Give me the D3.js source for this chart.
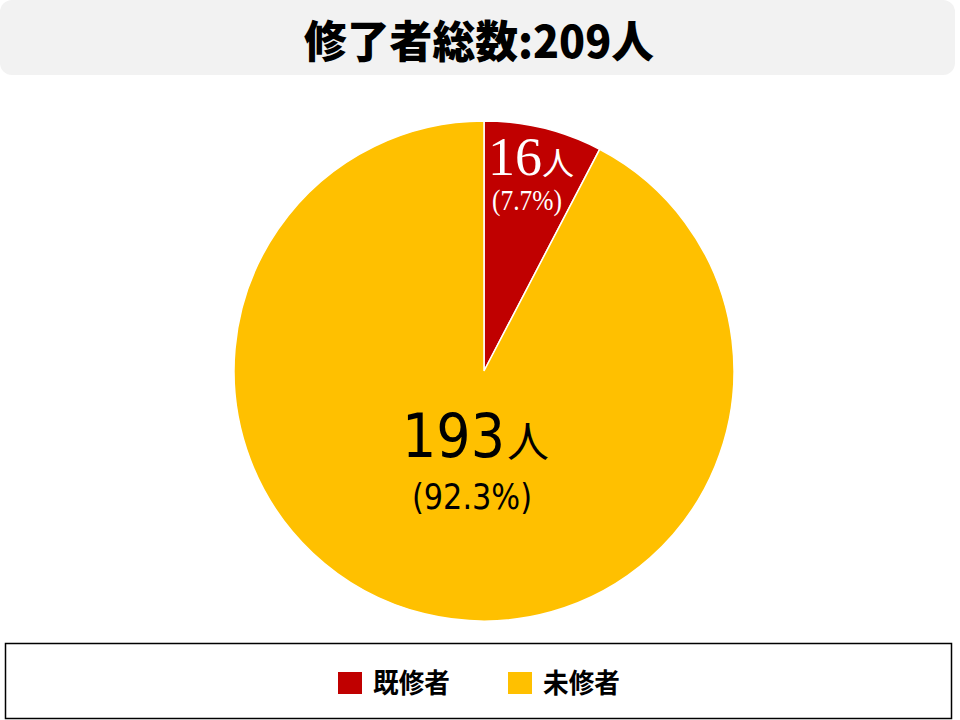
<!DOCTYPE html>
<html>
<head>
<meta charset="utf-8">
<script src="https://cdn.jsdelivr.net/npm/d3@7"></script>
<style>
  body { margin: 0; background: #fff; }
  svg { display: block; }
</style>
</head>
<body>
<div id="chart"></div>
<script>
// data
const categories = ["既修者", "未修者"];
const counts = [16, 193];
const percents = ["7.7%", "92.3%"];
const colors = ["#c00000", "#ffc000"];
const titleText = "修了者総数:209人";

const width = 960, height = 720;
const cx = 484, cy = 371, radius = 250;

const svg = d3.select("#chart")
  .append("svg")
  .attr("width", width)
  .attr("height", height);

// title box
svg.append("rect")
  .attr("x", 0).attr("y", 0)
  .attr("width", 955).attr("height", 75)
  .attr("rx", 12)
  .attr("fill", "#f2f2f2");

svg.append("text")
  .attr("x", 479).attr("y", 58)
  .attr("text-anchor", "middle")
  .attr("font-family", "'Noto Sans CJK JP', sans-serif")
  .attr("font-weight", 900)
  .attr("font-size", 44)
  .attr("textLength", 350)
  .attr("lengthAdjust", "spacingAndGlyphs")
  .attr("fill", "#000")
  .text(titleText);

// pie
const pie = d3.pie().sort(null).value(d => d);
const arcs = pie(counts);
const arc = d3.arc().innerRadius(0).outerRadius(radius);

const g = svg.append("g")
  .attr("transform", "translate(" + cx + "," + cy + ")");

g.selectAll("path")
  .data(arcs)
  .enter()
  .append("path")
  .attr("d", arc)
  .attr("fill", (d, i) => colors[i])
  .attr("stroke", "#fff")
  .attr("stroke-width", 1.5);

// label for the small slice (white, serif digits)
const small = g.append("text")
  .attr("fill", "#fff")
  .attr("font-family", "'Liberation Serif', serif");
small.append("tspan")
  .attr("x", 4).attr("y", -196)
  .attr("font-size", 54)
  .text(counts[0]);
small.append("tspan")
  .attr("font-size", 32)
  .attr("font-family", "'Noto Sans CJK JP', sans-serif")
  .text("人");
g.append("text")
  .attr("x", 43).attr("y", -161)
  .attr("text-anchor", "middle")
  .attr("fill", "#fff")
  .attr("font-family", "'Liberation Serif', serif")
  .attr("font-size", 29)
  .attr("textLength", 70)
  .attr("lengthAdjust", "spacingAndGlyphs")
  .text("(" + percents[0] + ")");

// label for the large slice
const big = g.append("text")
  .attr("fill", "#000")
  .attr("font-family", "'Liberation Sans Narrow', 'DejaVu Sans Condensed', sans-serif");
big.append("tspan")
  .attr("x", -82).attr("y", 86)
  .attr("font-size", 60)
  .text(counts[1]);
big.append("tspan")
  .attr("dx", 2)
  .attr("font-size", 42)
  .attr("font-family", "'Noto Sans CJK JP', sans-serif")
  .text("人");
g.append("text")
  .attr("x", -12).attr("y", 138)
  .attr("text-anchor", "middle")
  .attr("fill", "#000")
  .attr("font-family", "'Liberation Sans Narrow', 'DejaVu Sans Condensed', sans-serif")
  .attr("font-size", 36)
  .attr("textLength", 120)
  .attr("lengthAdjust", "spacingAndGlyphs")
  .text("(" + percents[1] + ")");

// legend
svg.append("rect")
  .attr("x", 5.5).attr("y", 643.5)
  .attr("width", 946).attr("height", 75)
  .attr("fill", "#fff")
  .attr("stroke", "#000")
  .attr("stroke-width", 1.5);

const legendX = d3.scalePoint()
  .domain(categories)
  .range([338, 508]);

const lg = svg.selectAll("g.legend")
  .data(categories)
  .enter()
  .append("g")
  .attr("class", "legend")
  .attr("transform", d => "translate(" + legendX(d) + ",672)");

lg.append("rect")
  .attr("width", 24).attr("height", 22)
  .attr("fill", (d, i) => colors[i]);

lg.append("text")
  .attr("x", 35).attr("y", 21)
  .attr("font-family", "'Noto Sans CJK JP', sans-serif")
  .attr("font-weight", "bold")
  .attr("font-size", 27)
  .attr("textLength", 77)
  .attr("lengthAdjust", "spacingAndGlyphs")
  .attr("fill", "#000")
  .text(d => d);
</script>
</body>
</html>
